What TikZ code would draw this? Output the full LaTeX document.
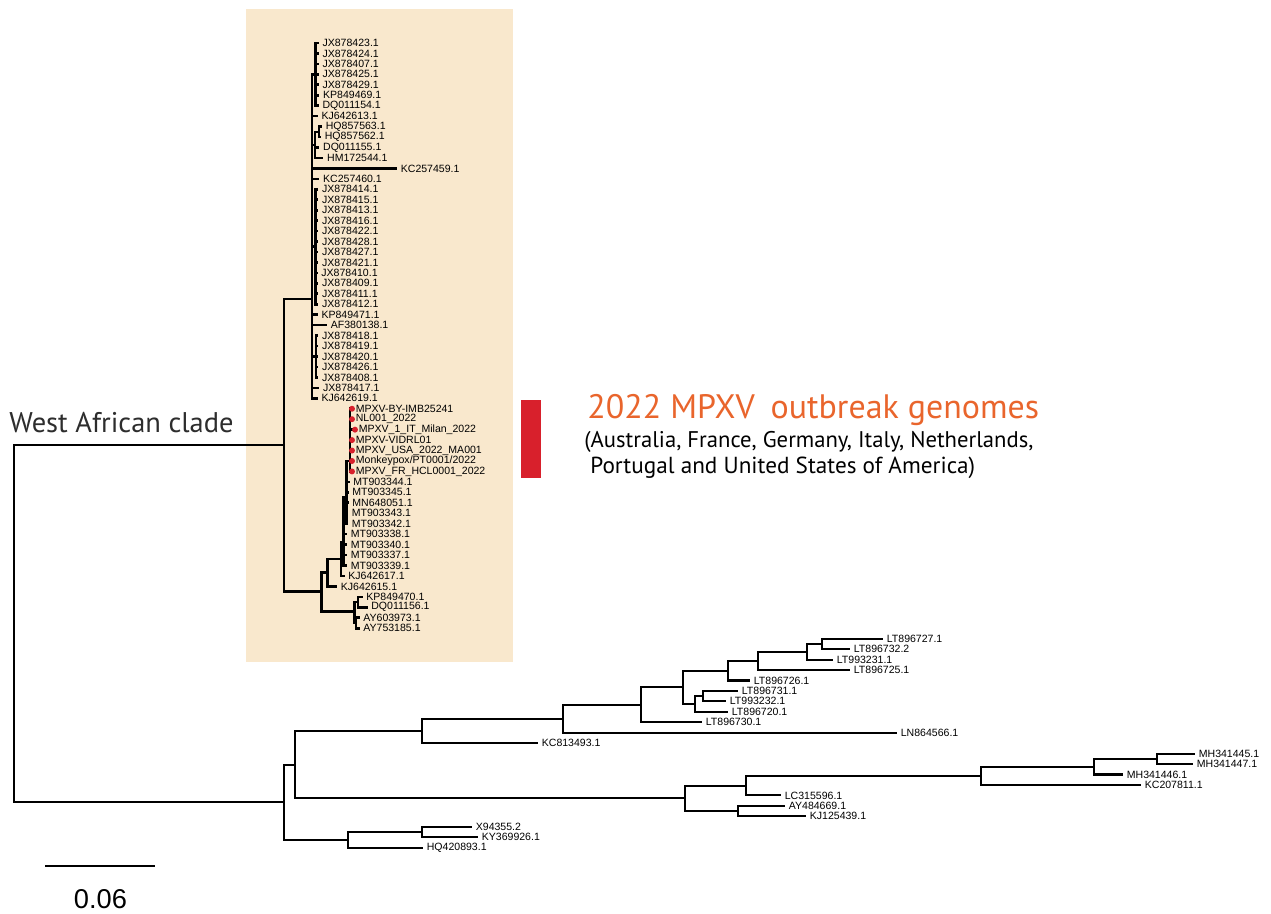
\documentclass[tikz,border=0pt]{standalone}
\usepackage{fontspec}
\setmainfont{Liberation Sans}
\newfontfamily\cladefont{PT Sans}
\definecolor{cladebg}{RGB}{249,232,205}
\definecolor{outbreakred}{RGB}{216,32,44}
\definecolor{outbreakorange}{RGB}{233,101,44}
\definecolor{cladegray}{RGB}{45,45,45}
\tikzset{
  branch/.style = {draw=black, line width=1.2pt},
  west_branch/.style = {branch, line width=1.5pt},
  taxon/.style = {anchor=west, inner xsep=2pt, inner ysep=0pt,
    font=\fontsize{6}{7}\selectfont},
  outbreak_dot/.style = {fill=outbreakred},
  big_label/.style = {inner sep=0pt, anchor=base west, font=\cladefont}
}

\begin{document}
\begin{tikzpicture}[x=0.02cm, y=-0.02cm]
  \useasboundingbox (0,0) rectangle (1271,913);
  % West African clade box
  \fill[cladebg] (246,9) rectangle (513,662);

  % internal nodes
  \coordinate (root) at (14,623.9);
  \coordinate (W) at (284,445.4);
  \coordinate (U) at (312,299);
  \coordinate (u1a) at (315.5,74.4);
  \coordinate (uhq) at (315,145);
  \coordinate (hq2) at (319,131.9);
  \coordinate (u1c) at (315.5,246.8);
  \coordinate (u1d) at (316,356.5);
  \coordinate (V) at (321.7,591.7);
  \coordinate (V1) at (327.7,572.7);
  \coordinate (V11) at (341,559);
  \coordinate (VMT) at (343.5,542);
  \coordinate (VA) at (346.5,497);
  \coordinate (V2022) at (350,461);
  \coordinate (V2) at (354.5,611.7);
  \coordinate (V21) at (358,602);
  \coordinate (V22) at (356,623);
  \coordinate (R2) at (284,802.4);
  \coordinate (A) at (295,764.7);
  \coordinate (B) at (422,731);
  \coordinate (C) at (563,718.8);
  \coordinate (D) at (641,704.8);
  \coordinate (E) at (683,687.3);
  \coordinate (F) at (695,704);
  \coordinate (G) at (703,696.1);
  \coordinate (H) at (728,670.7);
  \coordinate (I) at (758,660.9);
  \coordinate (J) at (807,651.7);
  \coordinate (K) at (822,643.9);
  \coordinate (L) at (685,798.4);
  \coordinate (M) at (746,785.6);
  \coordinate (N) at (738,811.1);
  \coordinate (P) at (981,775.8);
  \coordinate (Q) at (1094,766.7);
  \coordinate (R) at (1157,758.9);
  \coordinate (S) at (348,840);
  \coordinate (T) at (422,832.1);

  \foreach \p/\c in {root/W, root/R2, R2/A, R2/S, A/B, A/L, B/C, C/D, D/E,
      E/H, E/F, F/G, H/I, I/J, J/K, L/M, L/N, M/P, P/Q, Q/R, S/T}
    \draw[branch] (\p) |- (\c);
  \foreach \p/\c in {W/U, W/V, U/u1a, U/uhq, uhq/hq2, U/u1c, U/u1d, V/V1,
      V/V2, V1/V11, V11/VMT, VMT/VA, VA/V2022, V2/V21, V2/V22}
    \draw[west_branch] (\p) |- (\c);

  % taxa, one row each
  \foreach \p/\x/\lab [count=\i] in {
      u1a/318.7/JX878423.1, u1a/318.7/JX878424.1, u1a/318.7/JX878407.1,
      u1a/318.7/JX878425.1, u1a/318.7/JX878429.1, u1a/319.3/KP849469.1,
      u1a/318.7/DQ011154.1, U/317.7/KJ642613.1, hq2/322/HQ857563.1,
      hq2/321/HQ857562.1, uhq/319.3/DQ011155.1, uhq/323.3/HM172544.1,
      U/397/KC257459.1, U/319.3/KC257460.1,
      u1c/318.3/JX878414.1, u1c/318.3/JX878415.1, u1c/318.3/JX878413.1,
      u1c/318.3/JX878416.1, u1c/318.3/JX878422.1, u1c/318.3/JX878428.1,
      u1c/318.3/JX878427.1, u1c/318.3/JX878421.1, u1c/317.5/JX878410.1,
      u1c/318.3/JX878409.1, u1c/318.3/JX878411.1, u1c/318.3/JX878412.1,
      U/317.7/KP849471.1, U/327/AF380138.1,
      u1d/318.3/JX878418.1, u1d/318.3/JX878419.1, u1d/318.3/JX878420.1,
      u1d/318.3/JX878426.1, u1d/318.3/JX878408.1,
      U/319.3/JX878417.1, U/317.7/KJ642619.1,
      V2022/352/MPXV-BY-IMB25241, V2022/352/NL001\_2022,
      V2022/355/MPXV\_1\_IT\_Milan\_2022, V2022/352/MPXV-VIDRL01,
      V2022/352/MPXV\_USA\_2022\_MA001, V2022/352/{Monkeypox/PT0001/2022},
      V2022/352/MPXV\_FR\_HCL0001\_2022,
      VA/349.5/MT903344.1, VA/348.5/MT903345.1, VA/348.5/MN648051.1,
      VA/348/MT903343.1, VA/348/MT903342.1,
      VMT/347/MT903338.1, VMT/347/MT903340.1, VMT/347/MT903337.1,
      VMT/347/MT903339.1, V11/344.5/KJ642617.1, V1/337/KJ642615.1,
      V21/362.5/KP849470.1, V21/367.5/DQ011156.1,
      V22/359.5/AY603973.1, V22/359.5/AY753185.1}{
    \node[taxon] (t\i) at (\x,{43+(\i-1)*10.45}) {\lab};
    \draw[west_branch] (\p) |- (t\i.west);
  }
  \foreach \p/\x/\lab [count=\i from 58] in {
      K/883/LT896727.1, K/850/LT896732.2, J/833/LT993231.1,
      I/850/LT896725.1, H/750/LT896726.1, G/738/LT896731.1,
      G/726/LT993232.1, F/728/LT896720.1, D/702/LT896730.1,
      C/897/LN864566.1, B/538/KC813493.1,
      R/1195/MH341445.1, R/1193/MH341447.1, Q/1123/MH341446.1,
      P/1141/KC207811.1, M/781/LC315596.1, N/785/AY484669.1,
      N/806/KJ125439.1, T/472/X94355.2, T/478/KY369926.1,
      S/423/HQ420893.1}{
    \node[taxon] (t\i) at (\x,{43+(\i-1)*10.45}) {\lab};
    \draw[branch] (\p) |- (t\i.west);
  }
  % 2022 outbreak genomes
  \foreach \i in {36,...,42}
    \fill[outbreak_dot] (t\i.west) circle (1.7pt);

  \node[big_label, text=cladegray, font=\cladefont\fontsize{16.2}{19}\selectfont]
    (wac) at (9,432) {West African clade};

  \fill[outbreakred] (521,400) rectangle (541,478);
  \node[big_label, text=outbreakorange, font=\cladefont\fontsize{19.3}{23}\selectfont]
    (otitle) at (587,418) {2022 MPXV\hspace{0.2em} outbreak genomes};
  \node[big_label, font=\cladefont\fontsize{12.9}{15}\selectfont]
    (oline1) at (584,447) {(Australia, France, Germany, Italy, Netherlands,};
  \node[big_label, font=\cladefont\fontsize{13.2}{15}\selectfont]
    (oline2) at (590,473) {Portugal and United States of America)};

  % scale bar
  \coordinate (sb0) at (45,866);
  \coordinate (sb1) at (155,866);
  \draw[branch, line width=1.6pt] (sb0) -- (sb1);
  \node[inner sep=0pt, anchor=base, font=\fontsize{15.5}{18}\selectfont]
    (sblab) at (100.5,908) {0.06};
\end{tikzpicture}
\end{document}
